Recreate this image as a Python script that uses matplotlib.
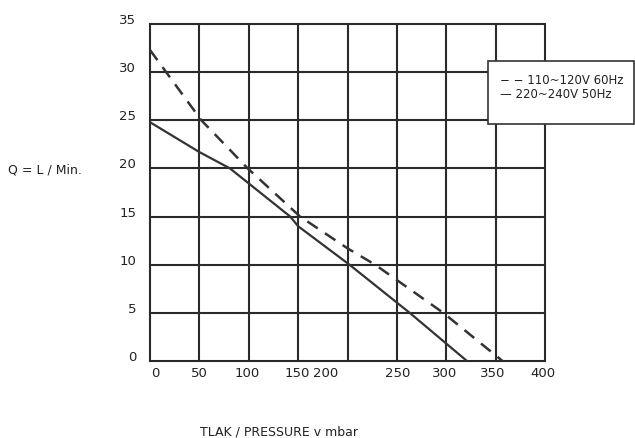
import matplotlib
matplotlib.use("Agg")
import matplotlib.pyplot as plt
import matplotlib.transforms as mtrans
from matplotlib.patches import Rectangle
import numpy as np

# pump curves (pressure mbar, flow L/min)
p_50hz = [0, 50, 81, 142, 150, 202, 263, 321]
q_50hz = [24.8, 21.7, 20.0, 15.0, 14.0, 10.0, 5.0, 0.0]
p_60hz = [0, 52, 99, 152, 200, 228, 297, 357]
q_60hz = [32.3, 25.0, 20.0, 15.0, 11.7, 10.0, 5.0, 0.0]

x_grid = np.arange(0, 401, 50)
y_grid = np.arange(0, 36, 5)
# labels on the scan are not exactly under the grid lines
x_label_pos = [5, 50, 98, 149, 178, 251, 298, 347, 398]
x_labels = ["0", "50", "100", "150", "200", "250", "300", "350", "400"]
y_labels = ["0", "5", "10", "15", "20", "25", "30", "35"]
legend_lines = ["\u2212 \u2212 110~120V 60Hz", "\u2014 220~240V 50Hz"]

fig = plt.figure(figsize=(6.35, 4.38), dpi=100)
ax = fig.add_axes([150 / 635, 77 / 438, 395 / 635, 337 / 438])

grid_col = "#2a2a2a"
for xv in x_grid:
    ax.axvline(xv, color=grid_col, lw=1.5, zorder=1, clip_on=False,
               solid_capstyle="butt")
for yv in y_grid:
    ax.axhline(yv, color=grid_col, lw=1.5, zorder=1, clip_on=False,
               solid_capstyle="projecting")
for s in ax.spines.values():
    s.set_visible(False)

ax.plot(p_60hz, q_60hz, color="#333333", lw=1.8, ls=(0, (5, 3.5)), zorder=3)
ax.plot(p_50hz, q_50hz, color="#333333", lw=1.6, zorder=3)

ax.set_xticks(x_label_pos)
ax.set_xticklabels(x_labels)
ax.set_yticks(y_grid)
ax.set_yticklabels(y_labels)
ax.set_xlim(0, 400)
ax.set_ylim(0, 35)
ax.tick_params(length=0, labelsize=9.5, colors="#222222")
ax.tick_params(axis="y", pad=10)
ax.tick_params(axis="x", pad=4)

# y labels sit a little above their grid lines on the scan
offset = mtrans.ScaledTranslation(0, 5 / 100, fig.dpi_scale_trans)
for lbl in ax.get_yticklabels():
    lbl.set_transform(lbl.get_transform() + offset)

fig.text(8 / 635, 1 - 170 / 438, "Q = L / Min.", fontsize=9, va="center",
         ha="left", color="#222222")
fig.text(200 / 635, 1 - 432 / 438, "TLAK / PRESSURE v mbar", fontsize=9,
         va="center", ha="left", color="#222222")

# legend box drawn over the grid
fig.patches.append(Rectangle((488 / 635, 1 - 124 / 438), 146 / 635, 63 / 438,
                             transform=fig.transFigure, facecolor="white",
                             edgecolor="#333333", lw=1.2, zorder=5))
fig.text(500 / 635, 1 - 80 / 438, legend_lines[0], fontsize=8.5, va="center",
         ha="left", color="#222222", zorder=6)
fig.text(500 / 635, 1 - 94 / 438, legend_lines[1], fontsize=8.5, va="center",
         ha="left", color="#222222", zorder=6)

fig.savefig("out.png", dpi=100)
